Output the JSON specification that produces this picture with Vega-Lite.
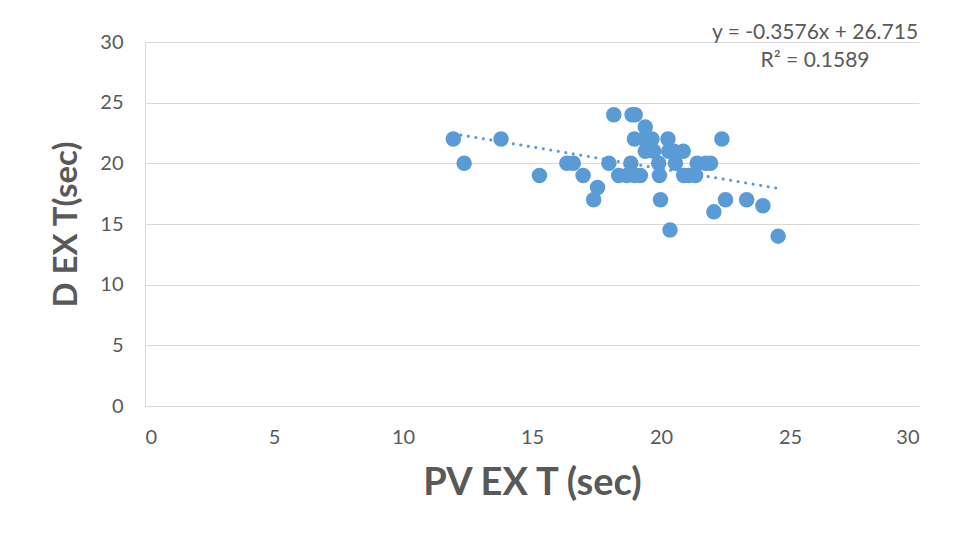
{
  "$schema": "https://vega.github.io/schema/vega-lite/v6.json",
  "width": 774,
  "height": 364,
  "autosize": "none",
  "padding": {"left": 145, "top": 42, "right": 38, "bottom": 132},
  "background": "white",
  "config": {
    "view": {"stroke": null},
    "font": "Lato",
    "axis": {
      "labelFont": "Lato",
      "labelFontSize": 20,
      "labelColor": "#595959",
      "titleFont": "Lato",
      "titleColor": "#595959",
      "titleFontWeight": "bold",
      "gridColor": "#d9d9d9",
      "gridWidth": 1,
      "domainColor": "#d9d9d9",
      "domainWidth": 1,
      "ticks": false
    }
  },
  "datasets": {
    "obs": [
      {"pv": 11.95, "d": 22}, {"pv": 12.37, "d": 20}, {"pv": 13.8, "d": 22},
      {"pv": 15.29, "d": 19}, {"pv": 16.35, "d": 20}, {"pv": 16.6, "d": 20},
      {"pv": 16.98, "d": 19}, {"pv": 17.54, "d": 18}, {"pv": 17.39, "d": 17},
      {"pv": 17.98, "d": 20}, {"pv": 18.17, "d": 24}, {"pv": 18.36, "d": 19},
      {"pv": 18.68, "d": 19}, {"pv": 18.83, "d": 20}, {"pv": 18.88, "d": 24},
      {"pv": 19.0, "d": 24}, {"pv": 18.97, "d": 19}, {"pv": 19.2, "d": 19},
      {"pv": 19.39, "d": 23}, {"pv": 18.97, "d": 22}, {"pv": 19.33, "d": 22},
      {"pv": 19.65, "d": 22}, {"pv": 19.39, "d": 21}, {"pv": 19.72, "d": 21},
      {"pv": 20.27, "d": 22}, {"pv": 20.3, "d": 21}, {"pv": 19.91, "d": 20},
      {"pv": 19.94, "d": 19}, {"pv": 19.98, "d": 17}, {"pv": 20.35, "d": 14.5},
      {"pv": 20.56, "d": 20}, {"pv": 20.86, "d": 21}, {"pv": 20.5, "d": 21},
      {"pv": 20.88, "d": 19}, {"pv": 21.08, "d": 19}, {"pv": 21.34, "d": 19},
      {"pv": 21.4, "d": 20}, {"pv": 21.73, "d": 20}, {"pv": 21.92, "d": 20},
      {"pv": 22.36, "d": 22}, {"pv": 22.5, "d": 17}, {"pv": 22.05, "d": 16},
      {"pv": 23.32, "d": 17}, {"pv": 23.95, "d": 16.5}, {"pv": 24.54, "d": 14}
    ],
    "trend": [
      {"pv": 11.95, "d": 22.442},
      {"pv": 24.54, "d": 17.939}
    ]
  },
  "layer": [
    {
      "data": {"name": "trend"},
      "mark": {"type": "line", "color": "#5b9bd5", "strokeWidth": 3, "strokeDash": [0.1, 7.5], "strokeCap": "round"},
      "encoding": {
        "x": {"field": "pv", "type": "quantitative", "scale": {"domain": [0, 30]},
              "axis": {"values": [0, 5, 10, 15, 20, 25, 30], "grid": false, "labelPadding": 21, "title": "PV EX T (sec)", "titleFontSize": 38, "titlePadding": 17}},
        "y": {"field": "d", "type": "quantitative", "scale": {"domain": [0, 30]},
              "axis": {"values": [0, 5, 10, 15, 20, 25, 30], "labelPadding": 22, "title": "D EX T(sec)", "titleFontSize": 33, "titlePadding": 16}}
      }
    },
    {
      "data": {"name": "obs"},
      "mark": {"type": "circle", "color": "#5b9bd5", "opacity": 1, "size": 240},
      "encoding": {
        "x": {"field": "pv", "type": "quantitative"},
        "y": {"field": "d", "type": "quantitative"}
      }
    },
    {
      "data": {"values": [{"eq": ["y = -0.3576x + 26.715", "R² = 0.1589"]}]},
      "mark": {"type": "text", "font": "Lato", "fontSize": 21, "color": "#595959", "align": "center", "baseline": "middle", "lineHeight": 28},
      "encoding": {
        "text": {"field": "eq"},
        "x": {"datum": 25.97, "type": "quantitative"},
        "y": {"datum": 30.74, "type": "quantitative"}
      }
    }
  ]
}
